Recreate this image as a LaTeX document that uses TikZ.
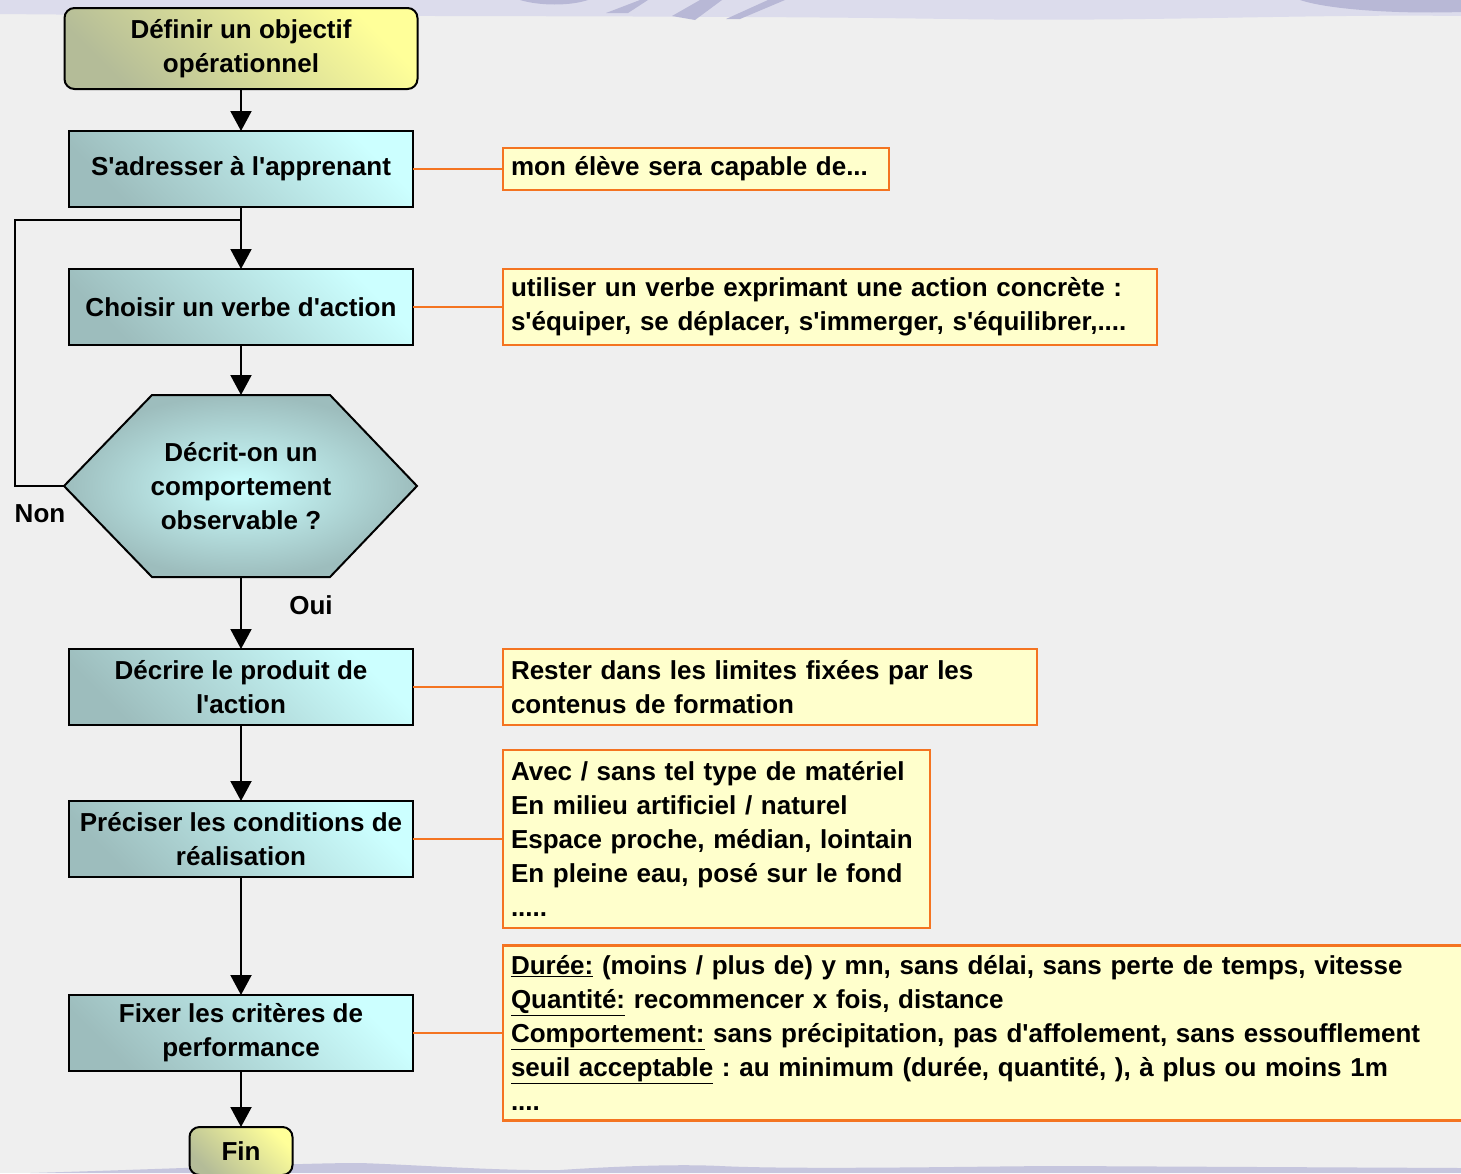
\documentclass[tikz,border=0pt]{standalone}
\usepackage{fontspec}
\setmainfont{Liberation Sans}[Ligatures=TeXOff]
\usetikzlibrary{arrows.meta}
\frenchspacing
\definecolor{bgc}{HTML}{EFEFEF}
\definecolor{bandc}{HTML}{DCDCEC}
\definecolor{swoosh}{HTML}{B8B8D6}
\definecolor{tealdark}{HTML}{9DBDBD}
\definecolor{cyanlight}{HTML}{CCFFFF}
\definecolor{olivedark}{HTML}{B4BC98}
\definecolor{yellowlight}{HTML}{FFFF99}
\definecolor{notefill}{HTML}{FFFFCC}
\definecolor{orangec}{HTML}{F47421}
\tikzset{
  procbox/.style={draw=black, line width=2pt, minimum width=344pt, minimum height=76pt,
    inner sep=0pt, outer sep=0pt, align=center,
    top color=tealdark, bottom color=cyanlight, shading angle=135},
  termbox/.style={draw=black, line width=2pt, rounded corners=10pt, inner sep=0pt, outer sep=0pt,
    align=center, top color=olivedark, bottom color=yellowlight, shading angle=135},
  notebox/.style={draw=orangec, line width=2.2pt, fill=notefill, anchor=west, align=left,
    inner xsep=8pt, inner ysep=0pt, outer sep=0pt},
  flow/.style={line width=2pt, draw=black, -{Triangle[width=21pt,length=20pt]}},
  plainline/.style={line width=2pt, draw=black},
  noteline/.style={line width=2pt, draw=orangec},
  lbl/.style={inner sep=0pt}
}
\begin{document}
\frenchspacing
\begin{tikzpicture}[x=1pt,y=-1pt, font=\fontsize{26}{34}\selectfont\bfseries\frenchspacing]
\useasboundingbox (0,0) rectangle (1461,1173);
\clip (0,0) rectangle (1461,1173);
% background
\fill[bgc] (0,0) rectangle (1461,1173);
\fill[bandc] (0,0) -- (1461,0) -- (1461,16) .. controls (1300,14) and (1150,22) .. (950,19) .. controls (700,15) and (300,17) .. (0,14) -- cycle;
\fill[swoosh] (520,0) .. controls (540,6) and (570,6) .. (588,0) -- cycle;
\fill[swoosh] (640,0) -- (606,13) -- (628,13) -- (648,0) -- cycle;
\fill[swoosh] (700,0) -- (672,16) -- (695,20) -- (722,0) -- cycle;
\fill[swoosh] (768,0) -- (726,19) -- (740,19) -- (785,0) -- cycle;
\fill[swoosh] (1300,0) .. controls (1330,10) and (1400,14) .. (1461,12) -- (1461,0) -- cycle;
\fill[swoosh!80] (30,1173) .. controls (200,1168) and (300,1163) .. (360,1163) .. controls (420,1165) and (500,1171) .. (560,1170) .. controls (620,1166) and (680,1164) .. (720,1166) .. controls (800,1170) and (1000,1166) .. (1060,1166) -- (1461,1168) -- (1461,1173) -- cycle;

% flow nodes
\node[termbox, minimum width=353pt, minimum height=81pt] (def) at (241,48.5) {Définir un objectif\\opérationnel};
\node[procbox] (adr) at (241,169) {S'adresser à l'apprenant};
\node[procbox] (cho) at (241,307) {Choisir un verbe d'action};
% hexagon decision
\coordinate (hexN) at (241,395);
\coordinate (hexS) at (241,577);
\coordinate (hexW) at (64,486);
\shade[draw=black, line width=2pt, inner color=cyanlight, outer color=tealdark]
  (hexW) -- (152,395) -- (330,395) -- (417,486) -- (330,577) -- (152,577) -- cycle;
\node[align=center, inner sep=0pt] (hex) at (241,486) {Décrit-on un\\comportement\\observable ?};
\node[procbox] (dec) at (241,687) {Décrire le produit de\\l'action};
\node[procbox] (pre) at (241,839) {Préciser les conditions de\\réalisation};
\node[procbox] (fix) at (241,1033) {Fixer les critères de\\performance};
\node[termbox, minimum width=103pt, minimum height=48pt] (fin) at (241,1151) {Fin};

\node[lbl] (non) at (40,514) {Non};
\node[lbl] (oui) at (311,605) {Oui};

% flow connectors
\draw[flow] (def) -- (adr);
\draw[flow] (adr) -- (cho);
\draw[flow] (cho) -- (hexN);
\draw[flow] (hexS) -- (dec);
\draw[flow] (dec) -- (pre);
\draw[flow] (pre) -- (fix);
\draw[flow] (fix) -- (fin);
\coordinate (join) at (241,220);
\draw[plainline] (hexW) -- (15,486) |- (join);

% notes
\node[notebox, text width=370pt, minimum height=42pt] (n1) at (503,169) {mon élève sera capable de...};
\node[notebox, text width=638pt, minimum height=76pt] (n2) at (503,307) {utiliser un verbe exprimant une action concrète :\\s'équiper, se déplacer, s'immerger, s'équilibrer,....};
\node[notebox, text width=518pt, minimum height=76pt] (n3) at (503,687) {Rester dans les limites fixées par les\\contenus de formation};
\node[notebox, text width=411pt, minimum height=178pt] (n4) at (503,839) {Avec / sans tel type de matériel\\En milieu artificiel / naturel\\Espace proche, médian, lointain\\En pleine eau, posé sur le fond\\.....};
\node[notebox, text width=964pt, minimum height=175pt] (n5) at (503,1033) {\underline{Durée:} (moins / plus de) y mn, sans délai, sans perte de temps, vitesse\\\underline{Quantité:} recommencer x fois, distance\\\underline{Comportement:} sans précipitation, pas d'affolement, sans essoufflement\\\underline{seuil acceptable} : au minimum (durée, quantité, ), à plus ou moins 1m\\....};

\draw[noteline] (adr.east) -- (n1.west);
\draw[noteline] (cho.east) -- (n2.west);
\draw[noteline] (dec.east) -- (n3.west);
\draw[noteline] (pre.east) -- (n4.west);
\draw[noteline] (fix.east) -- (n5.west);
\end{tikzpicture}
\end{document}
